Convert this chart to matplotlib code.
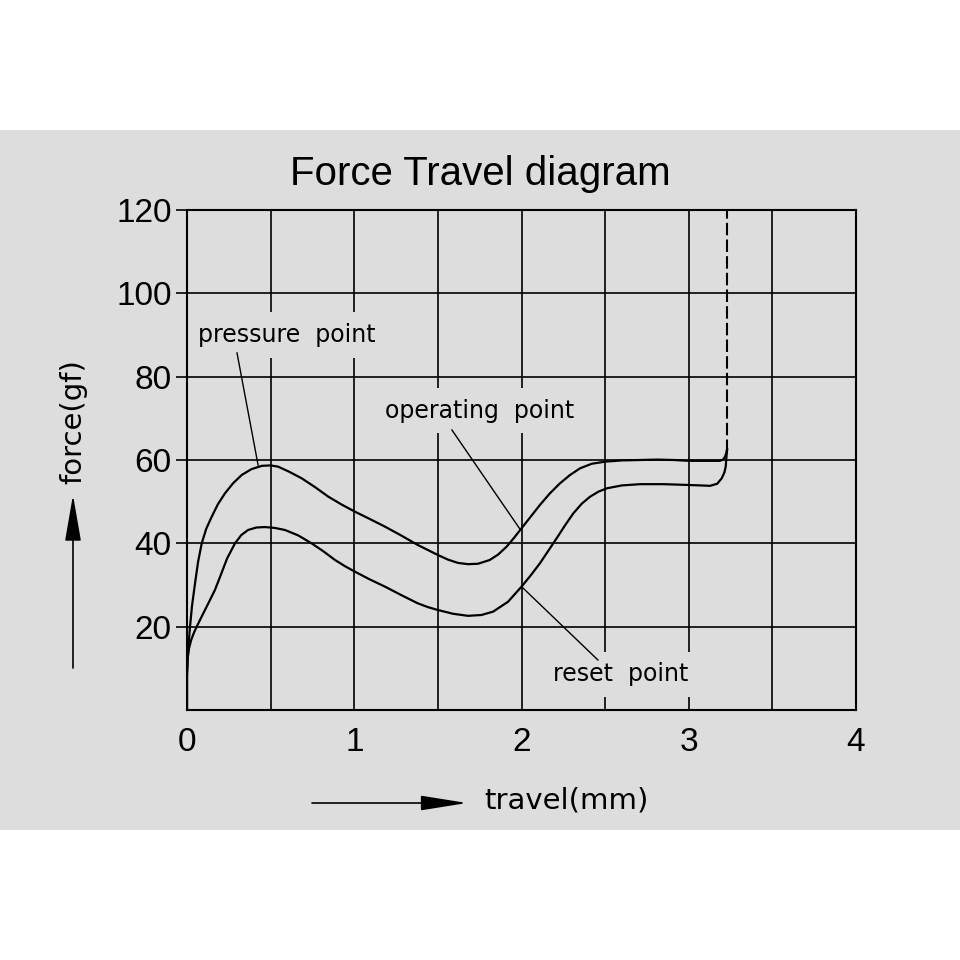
import matplotlib
matplotlib.use('Agg')
import matplotlib.pyplot as plt
from matplotlib.patches import Rectangle

# press (upper) curve
press_x = [0, 0, 0.004, 0.01, 0.018, 0.03, 0.048, 0.066, 0.088, 0.115, 0.148, 0.185, 0.227, 0.275,
           0.327, 0.385, 0.447, 0.5, 0.545, 0.61, 0.686, 0.765, 0.845, 0.925, 1.004, 1.09, 1.184,
           1.28, 1.38, 1.44, 1.5, 1.56, 1.62, 1.68, 1.74, 1.81, 1.86, 1.911, 1.955, 2.0, 2.055,
           2.11, 2.17, 2.23, 2.29, 2.35, 2.42, 2.5, 2.6, 2.71, 2.81, 2.91, 3.0, 3.1, 3.187,
           3.205, 3.217, 3.224, 3.229]
press_y = [0, 8, 12, 16, 20, 25, 30.4, 35.5, 40, 43.5, 46.4, 49.4, 52, 54.4,
           56.4, 57.8, 58.6, 58.7, 58.4, 57.2, 55.6, 53.5, 51.2, 49.3, 47.6, 45.9, 44,
           41.9, 39.6, 38.4, 37.2, 36.1, 35.3, 35, 35.1, 36, 37.3, 39.2, 41.3, 43.6, 46.4,
           49.2, 52, 54.4, 56.4, 58, 59.1, 59.6, 59.9, 60, 60.1, 60, 59.8, 59.8, 59.8,
           60.1, 60.8, 61.6, 62.5]

# release (lower) curve
rel_x = [0, 0, 0.004, 0.012, 0.025, 0.04, 0.058, 0.085, 0.12, 0.167, 0.2, 0.24, 0.287, 0.325,
         0.365, 0.415, 0.466, 0.525, 0.586, 0.665, 0.745, 0.815, 0.885, 0.945, 1.004, 1.09,
         1.184, 1.28, 1.38, 1.44, 1.5, 1.59, 1.68, 1.76, 1.83, 1.92, 2.0, 2.055, 2.11, 2.16,
         2.21, 2.26, 2.31, 2.36, 2.41, 2.46, 2.51, 2.6, 2.71, 2.85, 3.0, 3.07, 3.127, 3.17,
         3.197, 3.213, 3.221, 3.224, 3.229]
rel_y = [0, 9, 12.5, 14.8, 16.8, 18.4, 20, 22.2, 25, 28.8, 32.2, 36.4, 40, 42,
         43.2, 43.8, 43.9, 43.7, 43.2, 41.9, 40, 38.1, 36, 34.5, 33.2, 31.4,
         29.6, 27.6, 25.6, 24.7, 24, 23.1, 22.6, 22.8, 23.6, 26, 29.6, 32.3, 35.2, 38.2,
         41.2, 44.3, 47.2, 49.5, 51.2, 52.4, 53.2, 53.9, 54.2, 54.2, 54, 53.9, 53.8, 54.3,
         55.6, 57, 58.4, 60, 62.5]

# labels: (text, text x, text y, line start x, y, line end x, y)
notes = [("pressure  point", 0.598, 90.0, 0.299, 85.7, 0.425, 58.8),
         ("operating  point", 1.752, 71.8, 1.584, 67.2, 1.991, 43.4),
         ("reset  point", 2.595, 8.6, 2.457, 12.0, 2.003, 29.5)]

x_ticks = [0, 1, 2, 3, 4]
y_ticks = [20, 40, 60, 80, 100, 120]
grid_x = [0.5, 1, 1.5, 2, 2.5, 3, 3.5]
grid_y = [20, 40, 60, 80, 100]
stop_x = 3.229

gray = '#dddddd'
fig = plt.figure(figsize=(9.6, 9.6), dpi=100)
fig.patches.append(Rectangle((0, 130/960), 1, 700/960, transform=fig.transFigure,
                             facecolor=gray, edgecolor='none', zorder=-10))

ax = fig.add_axes([187/960, 250/960, 669/960, 500/960])
ax.set_facecolor(gray)
ax.set_xlim(0, 4)
ax.set_ylim(0, 120)

for gx in grid_x:
    ax.axvline(gx, color='black', lw=1.2, zorder=1)
for gy in grid_y:
    ax.axhline(gy, color='black', lw=1.2, zorder=1)

ax.plot(press_x, press_y, color='black', lw=1.6, zorder=3, solid_joinstyle='round')
ax.plot(rel_x, rel_y, color='black', lw=1.6, zorder=3, solid_joinstyle='round')
ax.plot([stop_x, stop_x], [62, 120], color='black', lw=1.5, ls=(0, (6, 2)), zorder=3)

for txt, tx, ty, x0, y0, x1, y1 in notes:
    ax.plot([x0, x1], [y0, y1], color='black', lw=1.0, zorder=3)
    ax.text(tx, ty, txt, ha='center', va='center', fontsize=17, family='DejaVu Sans',
            color='black', zorder=2,
            bbox=dict(boxstyle='square,pad=0.45', facecolor=gray, edgecolor='none'))

for s in ax.spines.values():
    s.set_linewidth(1.5)

ax.set_xticks(x_ticks)
ax.set_yticks(y_ticks)
ax.tick_params(axis='x', length=0, pad=12, labelsize=24)
ax.tick_params(axis='y', length=8, width=1.2, pad=3, labelsize=24)
for lab in ax.get_xticklabels() + ax.get_yticklabels():
    lab.set_family('Liberation Sans')

fig.text(480/960, 1 - 174/960, 'Force Travel diagram', ha='center', va='center',
         fontsize=29, family='Liberation Sans')

ax.annotate('', xy=(73, 960 - 495), xytext=(73, 960 - 668), xycoords='figure pixels',
            textcoords='figure pixels',
            arrowprops=dict(arrowstyle='-|>,head_length=1.44,head_width=0.25',
                            mutation_scale=20, color='black', lw=1.2, shrinkA=0, shrinkB=0))
ax.annotate('', xy=(467, 960 - 803), xytext=(312, 960 - 803), xycoords='figure pixels',
            textcoords='figure pixels',
            arrowprops=dict(arrowstyle='-|>,head_length=1.44,head_width=0.23',
                            mutation_scale=20, color='black', lw=1.2, shrinkA=0, shrinkB=0))
fig.text(73/960, 1 - 422/960, 'force(gf)', rotation=90, ha='center', va='center',
         fontsize=21, family='DejaVu Sans')
fig.text(484/960, 1 - 801/960, 'travel(mm)', ha='left', va='center',
         fontsize=21, family='DejaVu Sans')

fig.savefig('out.png', dpi=100, facecolor='white')
